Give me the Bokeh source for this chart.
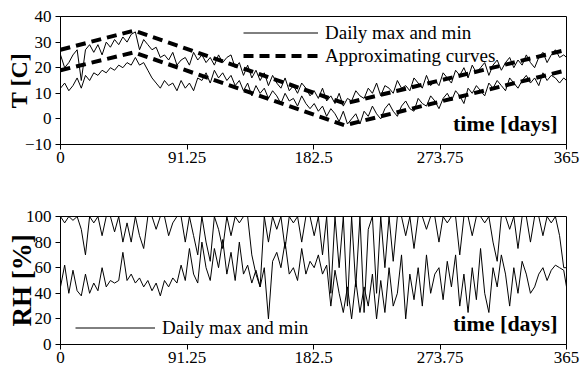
from bokeh.plotting import figure
from bokeh.models import FixedTicker, Legend, LegendItem, Label, Range1d
from bokeh.layouts import column
from bokeh.embed import file_html
from bokeh.resources import INLINE

# ---------------- data ----------------
days = list(range(0, 364, 3)) + [365]

t_max = [25, 20, 22, 25, 27, 15, 27, 29, 26, 29,
         25, 30, 28, 31, 29, 32, 30, 33, 34, 27,
         31, 29, 27, 28, 24, 25, 23, 26, 21, 23,
         24, 21, 26, 23, 25, 22, 24, 21, 25, 22,
         24, 25, 20, 22, 17, 21, 16, 19, 15, 18,
         13, 17, 14, 12, 16, 11, 13, 10, 14, 12,
         9, 11, 8, 12, 7, 9, 6, 10, 5, 8,
         7, 11, 9, 8, 12, 10, 14, 9, 13, 12,
         10, 15, 12, 13, 11, 16, 14, 12, 17, 13,
         15, 13, 18, 16, 14, 19, 17, 20, 16, 21,
         18, 20, 22, 17, 21, 23, 19, 22, 24, 20,
         23, 21, 25, 22, 20, 24, 26, 22, 25, 27,
         24, 25, 24]

t_min = [12, 14, 11, 13, 16, 12, 17, 15, 18, 17,
         19, 18, 20, 19, 21, 20, 22, 21, 24, 21,
         22, 19, 16, 14, 12, 15, 13, 14, 11, 15,
         12, 14, 11, 16, 15, 18, 14, 19, 16, 18,
         15, 17, 13, 15, 11, 14, 9, 13, 10, 12,
         8, 11, 9, 6, 10, 7, 8, 5, 9, 6,
         4, 6, 3, 5, 1, 4, 2, -1, 3, -2,
         0, 2, -2, 3, 1, 5, 2, 0, 4, 6,
         3, 1, 5, 7, 4, 3, 8, 6, 5, 9,
         7, 4, 8, 10, 7, 11, 9, 6, 12, 10,
         13, 11, 9, 14, 12, 15, 13, 11, 16, 14,
         12, 15, 17, 14, 16, 13, 18, 15, 17, 16,
         14, 16, 15]

approx_days = [0, 53, 205, 365]
approx_upper = [27, 34.5, 6, 27]
approx_lower = [19, 26, -2.5, 19]

rh_max = [100, 95, 100, 97, 100, 90, 70, 100, 95, 100,
          85, 100, 100, 88, 100, 80, 95, 80, 100, 85,
          75, 100, 100, 90, 100, 100, 85, 95, 100, 100,
          80, 100, 85, 70, 100, 80, 65, 100, 90, 75,
          100, 85, 100, 95, 100, 100, 70, 55, 45, 100,
          80, 100, 90, 100, 75, 100, 95, 100, 80, 100,
          100, 85, 100, 70, 100, 40, 100, 60, 100, 30,
          100, 45, 100, 25, 90, 100, 40, 100, 60, 100,
          65, 100, 100, 85, 100, 75, 100, 100, 90, 100,
          100, 80, 100, 95, 100, 100, 70, 100, 100, 85,
          100, 100, 95, 100, 80, 65, 100, 100, 90, 100,
          75, 100, 100, 80, 100, 100, 85, 100, 95, 100,
          85, 60, 60]

rh_min = [45, 62, 40, 58, 42, 38, 55, 40, 48, 42,
          60, 45, 50, 48, 50, 72, 50, 55, 48, 52,
          45, 50, 42, 48, 38, 50, 45, 52, 48, 62,
          50, 75, 55, 48, 80, 60, 50, 75, 60, 82,
          55, 72, 50, 80, 55, 62, 48, 58, 45, 60,
          20, 65, 72, 60, 80, 55, 60, 50, 75, 55,
          65, 60, 70, 55, 62, 30, 58, 40, 25, 45,
          20, 50, 25, 45, 30, 55, 20, 50, 25, 60,
          30, 40, 70, 20, 55, 35, 60, 30, 70, 40,
          55, 60, 35, 65, 45, 70, 30, 55, 25, 60,
          35, 75, 40, 25, 60, 45, 70, 55, 30, 60,
          40, 65, 55, 40, 45, 55, 60, 50, 58, 62,
          60, 58, 45]

x_ticks = [0, 91.25, 182.5, 273.75, 365]
x_tick_labels = ["0", "91.25", "182.5", "273.75", "365"]
t_ticks = [-10, 0, 10, 20, 30, 40]
rh_ticks = [0, 20, 40, 60, 80, 100]

FONT = "Liberation Serif"


def style(p, yticks, label, size, standoff):
    p.xgrid.grid_line_color = None
    p.ygrid.grid_line_color = None
    p.outline_line_color = "black"
    p.outline_line_alpha = 1
    p.outline_line_width = 1
    p.background_fill_color = "white"
    p.border_fill_color = "white"
    p.xaxis.ticker = FixedTicker(ticks=x_ticks)
    p.xaxis.major_label_overrides = {t: l for t, l in zip(x_ticks, x_tick_labels)}
    p.yaxis.ticker = FixedTicker(ticks=yticks)
    for ax in (p.xaxis, p.yaxis):
        ax.minor_tick_line_color = None
        ax.major_tick_in = 0
        ax.major_tick_out = 5
        ax.major_tick_line_color = "black"
        ax.axis_line_color = "black"
        ax.major_label_text_font = FONT
        ax.major_label_text_font_size = "17px"
        ax.major_label_text_color = "black"
    p.xaxis.major_label_standoff = 2
    p.yaxis.major_label_standoff = 4
    p.yaxis.axis_label = label
    p.yaxis.axis_label_text_font = FONT
    p.yaxis.axis_label_text_font_size = size
    p.yaxis.axis_label_text_font_style = "bold"
    p.yaxis.axis_label_text_color = "black"
    p.yaxis.axis_label_standoff = standoff


def legend(items, loc, gw):
    return Legend(items=items, location=loc, label_text_font=FONT,
                  label_text_font_size="19px", label_text_color="black",
                  glyph_width=gw, glyph_height=23, label_height=23,
                  spacing=0, padding=0, margin=0, label_standoff=7,
                  border_line_color=None, background_fill_alpha=0)


def time_label(y0):
    return Label(x=365, y=y0, x_offset=-9, y_offset=21, text="time [days]",
                 text_align="right", text_baseline="middle",
                 text_font=FONT, text_font_size="22px",
                 text_font_style="bold", text_color="black")


# ---------------- top panel ----------------
p1 = figure(width=580, height=186, x_range=Range1d(0, 365), y_range=Range1d(-10, 40),
            output_backend="svg", toolbar_location=None,
            min_border_left=60, min_border_right=14, min_border_top=16, min_border_bottom=42)
style(p1, t_ticks, "T [C]", "24px", -10)
r1 = p1.line(days, t_max, line_color="black", line_width=1)
p1.line(days, t_min, line_color="black", line_width=1)
r3 = p1.line(approx_days, approx_upper, line_color="black", line_width=4, line_dash="10 6")
p1.line(approx_days, approx_lower, line_color="black", line_width=4, line_dash="10 6")
p1.add_layout(legend([LegendItem(label="Daily max and min", renderers=[r1]),
                      LegendItem(label="Approximating curves", renderers=[r3])],
                     (183, 77), 75))
p1.add_layout(time_label(-10))

# ---------------- bottom panel ----------------
p2 = figure(width=580, height=187, x_range=Range1d(0, 365), y_range=Range1d(0, 100),
            output_backend="svg", toolbar_location=None,
            min_border_left=60, min_border_right=14, min_border_top=30, min_border_bottom=29)
style(p2, rh_ticks, "RH [%]", "27px", -14)
q1 = p2.line(days, rh_max, line_color="black", line_width=1)
p2.line(days, rh_min, line_color="black", line_width=1)
p2.add_layout(legend([LegendItem(label="Daily max and min", renderers=[q1])], (15, 5), 80))
p2.add_layout(time_label(0))

layout = column(p1, p2, spacing=0)
open("out.html", "w").write(file_html(layout, INLINE))
